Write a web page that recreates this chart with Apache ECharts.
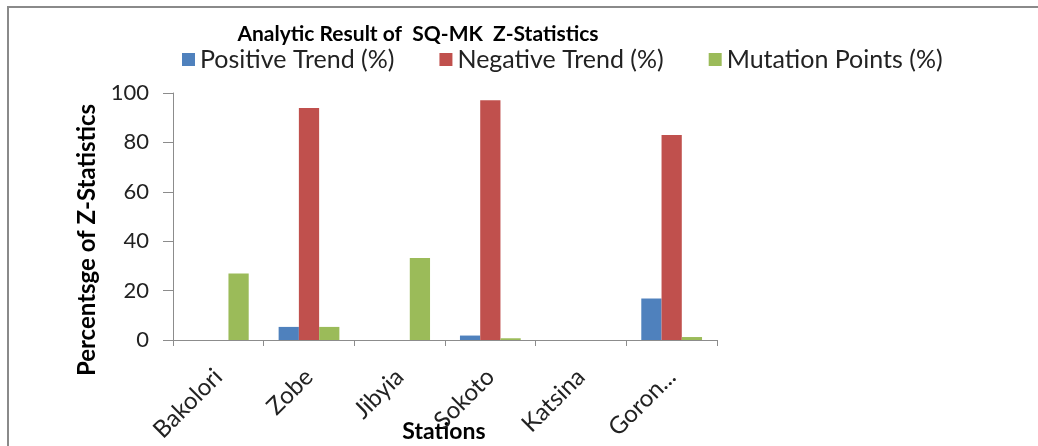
<!DOCTYPE html>
<html>
<head>
<meta charset="utf-8">
<script src="https://cdn.jsdelivr.net/npm/echarts@6/dist/echarts.min.js"></script>
<style>
  html, body { margin: 0; padding: 0; background: #fff; }
  #chart { width: 1038px; height: 446px; }
</style>
</head>
<body>
<div id="chart"></div>
<script>
// Stations along the x axis
const stations = ['Bakolori', 'Zobe', 'Jibyia', 'Sokoto', 'Katsina', 'Goron...'];

// Percentages per station
const positiveTrend = [0, 5.3, 0, 1.8, 0, 16.8];
const negativeTrend = [0, 93.9, 0, 97.1, 0, 83.0];
const mutationPoints = [26.9, 5.3, 33.2, 0.7, 0, 1.2];

const seriesNames = ['Positive Trend (%)', 'Negative Trend (%)', 'Mutation Points (%)'];
const yTicks = [0, 20, 40, 60, 80, 100];

const FONT = 'Lato';
const chart = echarts.init(document.getElementById('chart'));

function bar(name, data, color) {
  return {
    name: name,
    type: 'bar',
    data: data,
    barGap: '0%',
    barCategoryGap: '33%',
    itemStyle: { color: color },
    emphasis: { disabled: true }
  };
}

chart.setOption({
  animation: false,
  backgroundColor: '#ffffff',
  textStyle: { fontFamily: FONT },
  title: {
    text: 'Analytic Result of  SQ-MK  Z-Statistics',
    left: 413,
    top: 19,
    textAlign: 'center',
    textStyle: { fontFamily: FONT, fontSize: 21, fontWeight: 'bold', color: '#000' }
  },
  legend: {
    data: seriesNames,
    left: 177,
    top: 42,
    itemWidth: 13,
    itemHeight: 13,
    itemGap: 45,
    icon: 'rect',
    textStyle: { fontFamily: FONT, fontSize: 25, color: '#222' }
  },
  grid: {
    left: 173, right: 321, top: 93, bottom: 106,
    containLabel: false,
    outerBoundsMode: 'none'
  },
  xAxis: {
    type: 'category',
    data: stations,
    axisLine: { lineStyle: { color: '#8c8c8c', width: 1 } },
    axisTick: { show: true, length: 6, alignWithLabel: false, lineStyle: { color: '#8c8c8c' } },
    axisLabel: {
      rotate: 45,
      interval: 0,
      margin: 33,
      fontFamily: FONT,
      fontSize: 24,
      color: '#222'
    }
  },
  yAxis: {
    type: 'value',
    min: yTicks[0],
    max: yTicks[yTicks.length - 1],
    interval: 20,
    axisLine: { show: true, lineStyle: { color: '#8c8c8c', width: 1 } },
    axisTick: { show: true, inside: false, length: 10, lineStyle: { color: '#8c8c8c' } },
    splitLine: { show: false },
    axisLabel: { fontFamily: FONT, fontSize: 22, color: '#222', margin: 24 }
  },
  series: [
    bar(seriesNames[0], positiveTrend, '#4F81BD'),
    bar(seriesNames[1], negativeTrend, '#C0504D'),
    bar(seriesNames[2], mutationPoints, '#9BBB59')
  ],
  graphic: [
    {
      type: 'polyline',
      shape: { points: [[8, 446], [8, 7], [1038, 7]] },
      style: { stroke: '#8a8a8a', lineWidth: 2, fill: null },
      silent: true
    },
    {
      // y-axis title
      type: 'text',
      x: 87,
      y: 240,
      rotation: Math.PI / 2,
      style: {
        text: 'Percentsge of Z-Statistics',
        fontFamily: FONT,
        fontSize: 24,
        fontWeight: 'bold',
        fill: '#000',
        align: 'center',
        verticalAlign: 'middle'
      },
      silent: true
    },
    {
      // x-axis title
      type: 'text',
      x: 444,
      y: 432,
      style: {
        text: 'Stations',
        fontFamily: FONT,
        fontSize: 23,
        fontWeight: 'bold',
        fill: '#000',
        align: 'center',
        verticalAlign: 'middle'
      },
      silent: true
    }
  ]
});
</script>
</body>
</html>
